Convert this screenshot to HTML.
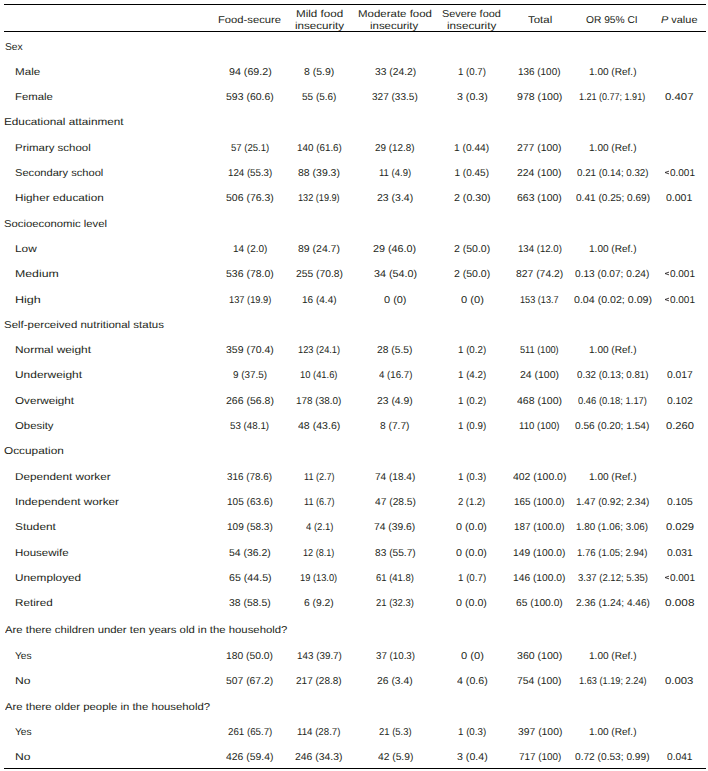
<!DOCTYPE html>
<html><head><meta charset="utf-8"><style>
html,body{margin:0;padding:0;background:#fff;width:708px;height:771px;overflow:hidden}
body{position:relative;font-family:"Liberation Sans",sans-serif;font-size:10.0px;color:#231f20;text-rendering:geometricPrecision}
i{position:absolute;font-style:normal;white-space:pre;line-height:0;height:0;transform-origin:0 0;display:block}
em{font-style:italic}
.r{position:absolute;left:4px;width:702px;height:1px;background:#000}
</style></head><body>
<div class="r" style="top:4px"></div>
<div class="r" style="top:31px"></div>
<div class="r" style="top:768px"></div>
<i style="left:217.98px;top:21.00px;transform:scaleX(1.1230)">Food-secure</i>
<i style="left:295.72px;top:15.00px;transform:scaleX(1.1637)">Mild food</i>
<i style="left:294.75px;top:27.00px;transform:scaleX(1.1611)">insecurity</i>
<i style="left:357.68px;top:15.00px;transform:scaleX(1.1467)">Moderate food</i>
<i style="left:370.26px;top:27.00px;transform:scaleX(1.1418)">insecurity</i>
<i style="left:442.21px;top:15.00px;transform:scaleX(1.0909)">Severe food</i>
<i style="left:447.09px;top:27.00px;transform:scaleX(1.1659)">insecurity</i>
<i style="left:527.97px;top:21.00px;transform:scaleX(1.1457)">Total</i>
<i style="left:586.44px;top:21.00px;transform:scaleX(1.0224)">OR 95% CI</i>
<i style="left:661.47px;top:21.00px;transform:scaleX(1.0930)"><em>P</em> value</i>
<i style="left:4.54px;top:48.00px;transform:scaleX(1.0299)">Sex</i>
<i style="left:14.77px;top:73.00px;transform:scaleX(1.1618)">Male</i>
<i style="left:228.52px;top:73.00px;transform:scaleX(1.0680)">94 (69.2)</i>
<i style="left:304.03px;top:73.00px;transform:scaleX(1.0504)">8 (5.9)</i>
<i style="left:374.54px;top:73.00px;transform:scaleX(1.0282)">33 (24.2)</i>
<i style="left:457.77px;top:73.00px;transform:scaleX(0.9673)">1 (0.7)</i>
<i style="left:518.31px;top:73.00px;transform:scaleX(0.9916)">136 (100)</i>
<i style="left:588.70px;top:73.00px;transform:scaleX(1.0055)">1.00 (Ref.)</i>
<i style="left:14.79px;top:98.00px;transform:scaleX(1.1340)">Female</i>
<i style="left:226.03px;top:98.00px;transform:scaleX(1.0483)">593 (60.6)</i>
<i style="left:302.00px;top:98.00px;transform:scaleX(0.9985)">55 (5.6)</i>
<i style="left:372.25px;top:98.00px;transform:scaleX(1.0034)">327 (33.5)</i>
<i style="left:456.57px;top:98.00px;transform:scaleX(1.0628)">3 (0.3)</i>
<i style="left:517.02px;top:98.00px;transform:scaleX(1.0587)">978 (100)</i>
<i style="left:579.37px;top:98.00px;transform:scaleX(0.9014)">1.21 (0.77; 1.91)</i>
<i style="left:665.45px;top:98.00px;transform:scaleX(1.1369)">0.407</i>
<i style="left:4.06px;top:123.00px;transform:scaleX(1.1750)">Educational attainment</i>
<i style="left:14.78px;top:149.00px;transform:scaleX(1.1446)">Primary school</i>
<i style="left:230.82px;top:149.00px;transform:scaleX(0.9538)">57 (25.1)</i>
<i style="left:296.61px;top:149.00px;transform:scaleX(0.9842)">140 (61.6)</i>
<i style="left:375.31px;top:149.00px;transform:scaleX(0.9871)">29 (12.8)</i>
<i style="left:454.13px;top:149.00px;transform:scaleX(1.0211)">1 (0.44)</i>
<i style="left:517.43px;top:149.00px;transform:scaleX(1.0384)">277 (100)</i>
<i style="left:588.70px;top:149.00px;transform:scaleX(1.0055)">1.00 (Ref.)</i>
<i style="left:15.20px;top:174.00px;transform:scaleX(1.1104)">Secondary school</i>
<i style="left:227.62px;top:174.00px;transform:scaleX(0.9706)">124 (55.3)</i>
<i style="left:298.23px;top:174.00px;transform:scaleX(1.0475)">88 (39.3)</i>
<i style="left:378.89px;top:174.00px;transform:scaleX(0.9521)">11 (4.9)</i>
<i style="left:454.50px;top:174.00px;transform:scaleX(1.0000)">1 (0.45)</i>
<i style="left:517.43px;top:174.00px;transform:scaleX(1.0384)">224 (100)</i>
<i style="left:576.86px;top:174.00px;transform:scaleX(0.9744)">0.21 (0.14; 0.32)</i>
<i style="left:670.30px;top:174.00px;transform:scaleX(0.9979)">0.001</i>
<i style="left:14.76px;top:199.00px;transform:scaleX(1.1733)">Higher education</i>
<i style="left:226.03px;top:199.00px;transform:scaleX(1.0483)">506 (76.3)</i>
<i style="left:298.21px;top:199.00px;transform:scaleX(0.9140)">132 (19.9)</i>
<i style="left:376.98px;top:199.00px;transform:scaleX(1.0495)">23 (3.4)</i>
<i style="left:453.57px;top:199.00px;transform:scaleX(1.0615)">2 (0.30)</i>
<i style="left:517.28px;top:199.00px;transform:scaleX(1.0456)">663 (100)</i>
<i style="left:575.60px;top:199.00px;transform:scaleX(1.0090)">0.41 (0.25; 0.69)</i>
<i style="left:666.48px;top:199.00px;transform:scaleX(1.0518)">0.001</i>
<i style="left:4.49px;top:225.00px;transform:scaleX(1.1299)">Socioeconomic level</i>
<i style="left:14.75px;top:250.00px;transform:scaleX(1.1823)">Low</i>
<i style="left:232.55px;top:250.00px;transform:scaleX(0.9970)">14 (2.0)</i>
<i style="left:298.23px;top:250.00px;transform:scaleX(1.0475)">89 (24.7)</i>
<i style="left:373.46px;top:250.00px;transform:scaleX(1.0797)">29 (46.0)</i>
<i style="left:453.78px;top:250.00px;transform:scaleX(1.0495)">2 (50.0)</i>
<i style="left:517.63px;top:250.00px;transform:scaleX(0.9615)">134 (12.0)</i>
<i style="left:588.70px;top:250.00px;transform:scaleX(1.0055)">1.00 (Ref.)</i>
<i style="left:14.72px;top:275.00px;transform:scaleX(1.2299)">Medium</i>
<i style="left:226.03px;top:275.00px;transform:scaleX(1.0483)">536 (78.0)</i>
<i style="left:295.68px;top:275.00px;transform:scaleX(1.0304)">255 (70.8)</i>
<i style="left:373.57px;top:275.00px;transform:scaleX(1.0769)">34 (54.0)</i>
<i style="left:453.78px;top:275.00px;transform:scaleX(1.0495)">2 (50.0)</i>
<i style="left:516.08px;top:275.00px;transform:scaleX(1.0360)">827 (74.2)</i>
<i style="left:575.44px;top:275.00px;transform:scaleX(1.0131)">0.13 (0.07; 0.24)</i>
<i style="left:670.30px;top:275.00px;transform:scaleX(0.9979)">0.001</i>
<i style="left:14.69px;top:301.00px;transform:scaleX(1.2565)">High</i>
<i style="left:228.60px;top:301.00px;transform:scaleX(0.9276)">137 (19.9)</i>
<i style="left:301.75px;top:301.00px;transform:scaleX(1.0030)">16 (4.4)</i>
<i style="left:383.86px;top:301.00px;transform:scaleX(1.0946)">0 (0)</i>
<i style="left:460.51px;top:301.00px;transform:scaleX(1.1100)">0 (0)</i>
<i style="left:520.16px;top:301.00px;transform:scaleX(0.9146)">153 (13.7</i>
<i style="left:573.62px;top:301.00px;transform:scaleX(1.0629)">0.04 (0.02; 0.09)</i>
<i style="left:670.30px;top:301.00px;transform:scaleX(0.9979)">0.001</i>
<i style="left:4.48px;top:326.00px;transform:scaleX(1.1464)">Self-perceived nutritional status</i>
<i style="left:14.75px;top:351.00px;transform:scaleX(1.1895)">Normal weight</i>
<i style="left:226.03px;top:351.00px;transform:scaleX(1.0483)">359 (70.4)</i>
<i style="left:298.01px;top:351.00px;transform:scaleX(0.9231)">123 (24.1)</i>
<i style="left:377.34px;top:351.00px;transform:scaleX(1.0285)">28 (5.5)</i>
<i style="left:457.67px;top:351.00px;transform:scaleX(0.9745)">1 (0.2)</i>
<i style="left:520.36px;top:351.00px;transform:scaleX(0.9196)">511 (100)</i>
<i style="left:588.70px;top:351.00px;transform:scaleX(1.0055)">1.00 (Ref.)</i>
<i style="left:14.80px;top:376.00px;transform:scaleX(1.1935)">Underweight</i>
<i style="left:232.86px;top:376.00px;transform:scaleX(0.9880)">9 (37.5)</i>
<i style="left:300.30px;top:376.00px;transform:scaleX(0.9366)">10 (41.6)</i>
<i style="left:378.51px;top:376.00px;transform:scaleX(0.9688)">4 (16.7)</i>
<i style="left:457.67px;top:376.00px;transform:scaleX(0.9745)">1 (4.2)</i>
<i style="left:520.20px;top:376.00px;transform:scaleX(1.0457)">24 (100)</i>
<i style="left:576.86px;top:376.00px;transform:scaleX(0.9744)">0.32 (0.13; 0.81)</i>
<i style="left:666.74px;top:376.00px;transform:scaleX(1.0332)">0.017</i>
<i style="left:15.17px;top:402.00px;transform:scaleX(1.1688)">Overweight</i>
<i style="left:225.92px;top:402.00px;transform:scaleX(1.0506)">266 (56.8)</i>
<i style="left:296.41px;top:402.00px;transform:scaleX(0.9932)">178 (38.0)</i>
<i style="left:377.23px;top:402.00px;transform:scaleX(1.0345)">23 (4.9)</i>
<i style="left:457.67px;top:402.00px;transform:scaleX(0.9745)">1 (0.2)</i>
<i style="left:517.29px;top:402.00px;transform:scaleX(1.0524)">468 (100)</i>
<i style="left:578.12px;top:402.00px;transform:scaleX(0.9399)">0.46 (0.18; 1.17)</i>
<i style="left:666.74px;top:402.00px;transform:scaleX(1.0332)">0.102</i>
<i style="left:15.19px;top:427.00px;transform:scaleX(1.1360)">Obesity</i>
<i style="left:230.36px;top:427.00px;transform:scaleX(0.9769)">53 (48.1)</i>
<i style="left:298.19px;top:427.00px;transform:scaleX(1.0561)">48 (43.6)</i>
<i style="left:380.34px;top:427.00px;transform:scaleX(1.0216)">8 (7.7)</i>
<i style="left:457.67px;top:427.00px;transform:scaleX(0.9745)">1 (0.9)</i>
<i style="left:519.28px;top:427.00px;transform:scaleX(0.9631)">110 (100)</i>
<i style="left:575.44px;top:427.00px;transform:scaleX(1.0131)">0.56 (0.20; 1.54)</i>
<i style="left:665.60px;top:427.00px;transform:scaleX(1.1175)">0.260</i>
<i style="left:4.47px;top:452.00px;transform:scaleX(1.1818)">Occupation</i>
<i style="left:14.76px;top:478.00px;transform:scaleX(1.1703)">Dependent worker</i>
<i style="left:227.40px;top:478.00px;transform:scaleX(0.9877)">316 (78.6)</i>
<i style="left:303.72px;top:478.00px;transform:scaleX(0.9088)">11 (2.7)</i>
<i style="left:374.95px;top:478.00px;transform:scaleX(1.0051)">74 (18.4)</i>
<i style="left:457.67px;top:478.00px;transform:scaleX(0.9745)">1 (0.3)</i>
<i style="left:513.14px;top:478.00px;transform:scaleX(1.0437)">402 (100.0)</i>
<i style="left:588.70px;top:478.00px;transform:scaleX(1.0055)">1.00 (Ref.)</i>
<i style="left:14.64px;top:503.00px;transform:scaleX(1.1770)">Independent worker</i>
<i style="left:226.85px;top:503.00px;transform:scaleX(1.0045)">105 (63.6)</i>
<i style="left:303.72px;top:503.00px;transform:scaleX(0.9088)">11 (6.7)</i>
<i style="left:374.75px;top:503.00px;transform:scaleX(1.0230)">47 (28.5)</i>
<i style="left:458.28px;top:503.00px;transform:scaleX(0.9405)">2 (1.2)</i>
<i style="left:514.26px;top:503.00px;transform:scaleX(0.9889)">165 (100.0)</i>
<i style="left:575.80px;top:503.00px;transform:scaleX(0.9986)">1.47 (0.92; 2.34)</i>
<i style="left:666.74px;top:503.00px;transform:scaleX(1.0289)">0.105</i>
<i style="left:15.17px;top:528.00px;transform:scaleX(1.1856)">Student</i>
<i style="left:226.85px;top:528.00px;transform:scaleX(1.0045)">109 (58.3)</i>
<i style="left:305.56px;top:528.00px;transform:scaleX(0.9519)">4 (2.1)</i>
<i style="left:374.43px;top:528.00px;transform:scaleX(1.0308)">74 (39.6)</i>
<i style="left:456.47px;top:528.00px;transform:scaleX(1.0700)">0 (0.0)</i>
<i style="left:514.26px;top:528.00px;transform:scaleX(0.9889)">187 (100.0)</i>
<i style="left:576.41px;top:528.00px;transform:scaleX(0.9819)">1.80 (1.06; 3.06)</i>
<i style="left:665.60px;top:528.00px;transform:scaleX(1.1222)">0.029</i>
<i style="left:14.78px;top:554.00px;transform:scaleX(1.1496)">Housewife</i>
<i style="left:229.08px;top:554.00px;transform:scaleX(1.0410)">54 (36.2)</i>
<i style="left:303.37px;top:554.00px;transform:scaleX(0.9094)">12 (8.1)</i>
<i style="left:374.74px;top:554.00px;transform:scaleX(1.0167)">83 (55.7)</i>
<i style="left:456.47px;top:554.00px;transform:scaleX(1.0700)">0 (0.0)</i>
<i style="left:513.38px;top:554.00px;transform:scaleX(1.0231)">149 (100.0)</i>
<i style="left:577.28px;top:554.00px;transform:scaleX(0.9583)">1.76 (1.05; 2.94)</i>
<i style="left:666.74px;top:554.00px;transform:scaleX(1.0311)">0.031</i>
<i style="left:14.82px;top:579.00px;transform:scaleX(1.1781)">Unemployed</i>
<i style="left:228.57px;top:579.00px;transform:scaleX(1.0643)">65 (44.5)</i>
<i style="left:300.45px;top:579.00px;transform:scaleX(0.9288)">19 (13.0)</i>
<i style="left:376.13px;top:579.00px;transform:scaleX(0.9460)">61 (41.8)</i>
<i style="left:457.67px;top:579.00px;transform:scaleX(0.9745)">1 (0.7)</i>
<i style="left:513.38px;top:579.00px;transform:scaleX(1.0231)">146 (100.0)</i>
<i style="left:577.62px;top:579.00px;transform:scaleX(0.9537)">3.37 (2.12; 5.35)</i>
<i style="left:670.30px;top:579.00px;transform:scaleX(0.9979)">0.001</i>
<i style="left:14.76px;top:604.00px;transform:scaleX(1.1688)">Retired</i>
<i style="left:229.08px;top:604.00px;transform:scaleX(1.0410)">38 (58.5)</i>
<i style="left:304.28px;top:604.00px;transform:scaleX(1.0306)">6 (9.2)</i>
<i style="left:376.13px;top:604.00px;transform:scaleX(0.9460)">21 (32.3)</i>
<i style="left:456.47px;top:604.00px;transform:scaleX(1.0700)">0 (0.0)</i>
<i style="left:516.29px;top:604.00px;transform:scaleX(1.0259)">65 (100.0)</i>
<i style="left:575.65px;top:604.00px;transform:scaleX(1.0062)">2.36 (1.24; 4.46)</i>
<i style="left:664.88px;top:604.00px;transform:scaleX(1.1777)">0.008</i>
<i style="left:5.00px;top:631.00px;transform:scaleX(1.1339)">Are there children under ten years old in the household?</i>
<i style="left:15.45px;top:657.00px;transform:scaleX(1.0191)">Yes</i>
<i style="left:226.23px;top:657.00px;transform:scaleX(1.0317)">180 (50.0)</i>
<i style="left:296.61px;top:657.00px;transform:scaleX(0.9842)">143 (39.7)</i>
<i style="left:375.61px;top:657.00px;transform:scaleX(0.9744)">37 (10.3)</i>
<i style="left:460.51px;top:657.00px;transform:scaleX(1.1100)">0 (0)</i>
<i style="left:517.08px;top:657.00px;transform:scaleX(1.0574)">360 (100)</i>
<i style="left:588.70px;top:657.00px;transform:scaleX(1.0055)">1.00 (Ref.)</i>
<i style="left:14.73px;top:682.00px;transform:scaleX(1.2121)">No</i>
<i style="left:226.34px;top:682.00px;transform:scaleX(1.0348)">507 (67.2)</i>
<i style="left:296.35px;top:682.00px;transform:scaleX(1.0011)">217 (28.8)</i>
<i style="left:377.23px;top:682.00px;transform:scaleX(1.0345)">26 (3.4)</i>
<i style="left:456.69px;top:682.00px;transform:scaleX(1.0624)">4 (0.6)</i>
<i style="left:517.43px;top:682.00px;transform:scaleX(1.0384)">754 (100)</i>
<i style="left:578.66px;top:682.00px;transform:scaleX(0.9208)">1.63 (1.19; 2.24)</i>
<i style="left:665.45px;top:682.00px;transform:scaleX(1.1322)">0.003</i>
<i style="left:5.00px;top:708.00px;transform:scaleX(1.1350)">Are there older people in the household?</i>
<i style="left:15.45px;top:733.00px;transform:scaleX(1.0191)">Yes</i>
<i style="left:227.71px;top:733.00px;transform:scaleX(0.9719)">261 (65.7)</i>
<i style="left:297.32px;top:733.00px;transform:scaleX(0.9689)">114 (28.7)</i>
<i style="left:378.78px;top:733.00px;transform:scaleX(0.9445)">21 (5.3)</i>
<i style="left:457.67px;top:733.00px;transform:scaleX(0.9745)">1 (0.3)</i>
<i style="left:517.54px;top:733.00px;transform:scaleX(1.0359)">397 (100)</i>
<i style="left:588.70px;top:733.00px;transform:scaleX(1.0055)">1.00 (Ref.)</i>
<i style="left:14.73px;top:758.00px;transform:scaleX(1.2121)">No</i>
<i style="left:226.29px;top:758.00px;transform:scaleX(1.0413)">426 (59.4)</i>
<i style="left:295.43px;top:758.00px;transform:scaleX(1.0416)">246 (34.3)</i>
<i style="left:377.54px;top:758.00px;transform:scaleX(1.0253)">42 (5.9)</i>
<i style="left:456.57px;top:758.00px;transform:scaleX(1.0628)">3 (0.4)</i>
<i style="left:518.56px;top:758.00px;transform:scaleX(0.9856)">717 (100)</i>
<i style="left:575.34px;top:758.00px;transform:scaleX(1.0159)">0.72 (0.53; 0.99)</i>
<i style="left:666.89px;top:758.00px;transform:scaleX(1.0186)">0.041</i>
<svg style="position:absolute;left:0;top:0" width="708" height="771" fill="none" stroke="#231f20" stroke-width="0.85"><polyline points="669.0,171.15 665.0,172.50 669.0,173.85"/><polyline points="669.0,272.15 665.0,273.50 669.0,274.85"/><polyline points="669.0,298.15 665.0,299.50 669.0,300.85"/><polyline points="669.0,576.15 665.0,577.50 669.0,578.85"/></svg>
</body></html>
